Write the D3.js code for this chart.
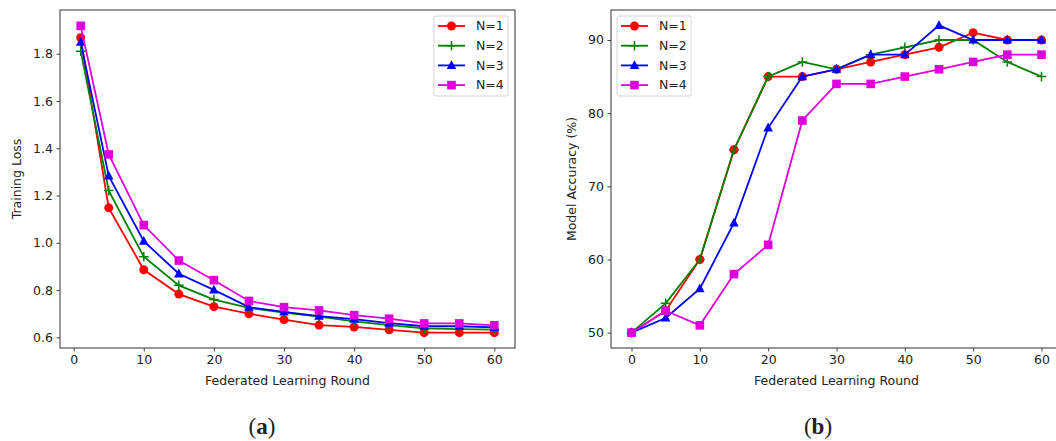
<!DOCTYPE html>
<html>
<head>
<meta charset="utf-8">
<script src="https://cdn.jsdelivr.net/npm/d3@7"></script>
<style>
  body { margin: 0; background: #fff; }
  text { font-family: "DejaVu Sans", sans-serif; fill: #222; }
</style>
</head>
<body>
<div id="chart"></div>
<script>
// data
let lossRounds = [1, 5, 10, 15, 20, 25, 30, 35, 40, 45, 50, 55, 60];
let accRounds = [0, 5, 10, 15, 20, 25, 30, 35, 40, 45, 50, 55, 60];
let seriesNames = ["N=1", "N=2", "N=3", "N=4"];

let lossN1 = [1.868, 1.148, 0.886, 0.783, 0.730, 0.700, 0.675, 0.652, 0.644, 0.632, 0.620, 0.620, 0.620];
let lossN2 = [1.811, 1.221, 0.941, 0.820, 0.760, 0.725, 0.705, 0.688, 0.668, 0.652, 0.638, 0.635, 0.633];
let lossN3 = [1.849, 1.283, 1.007, 0.869, 0.801, 0.728, 0.708, 0.690, 0.677, 0.660, 0.647, 0.647, 0.642];
let lossN4 = [1.918, 1.374, 1.075, 0.925, 0.842, 0.754, 0.728, 0.714, 0.694, 0.679, 0.659, 0.659, 0.651];

let accN1 = [50, 53, 60, 75, 85, 85, 86, 87, 88, 89, 91, 90, 90];
let accN2 = [50, 54, 60, 75, 85, 87, 86, 88, 89, 90, 90, 87, 85];
let accN3 = [50, 52, 56, 65, 78, 85, 86, 88, 88, 92, 90, 90, 90];
let accN4 = [50, 53, 51, 58, 62, 79, 84, 84, 85, 86, 87, 88, 88];

let lossTicksY = [0.6, 0.8, 1.0, 1.2, 1.4, 1.6, 1.8];
let accTicksY = [50, 60, 70, 80, 90];
let ticksX = [0, 10, 20, 30, 40, 50, 60];

let colors = ["#ff0000", "#008000", "#0000ff", "#dd00dd"];
let markers = ["circle", "plus", "triangle", "square"];

let svgWidth = 1056;
let svgHeight = 441;
let fontSize = "12.5px";

let svg = d3.select("#chart")
  .append("svg")
  .attr("width", svgWidth)
  .attr("height", svgHeight);

// draw one marker shape at 0,0
function drawMarker(g, type, color) {
  if (type === "circle") {
    g.append("circle").attr("r", 4.5).attr("fill", color);
  } else if (type === "square") {
    g.append("rect").attr("x", -4.3).attr("y", -4.3).attr("width", 8.6).attr("height", 8.6).attr("fill", color);
  } else if (type === "triangle") {
    g.append("path").attr("d", "M0,-5.2L4.8,3.6L-4.8,3.6Z").attr("fill", color);
  } else {
    g.append("path").attr("d", "M-4.8,0H4.8M0,-4.8V4.8").attr("stroke", color).attr("stroke-width", 1.5);
  }
}

function drawPanel(opts) {
  let g = svg.append("g");
  let x = d3.scaleLinear().domain(opts.xDomain).range([opts.left, opts.right]);
  let y = d3.scaleLinear().domain(opts.yDomain).range([opts.bottom, opts.top]);

  // axes
  let bottomAxis = d3.axisBottom(x).tickValues(ticksX).tickSize(3.5).tickPadding(3.5).tickFormat(d3.format("d"));
  let leftAxis = d3.axisLeft(y).tickValues(opts.yTicks).tickSize(3.5).tickPadding(3.5).tickFormat(opts.yFormat);

  let xAxis = g.append("g")
    .attr("transform", `translate(0,${opts.bottom})`)
    .call(bottomAxis);
  let yAxis = g.append("g")
    .attr("transform", `translate(${opts.left},0)`)
    .call(leftAxis);
  [xAxis, yAxis].forEach(a => {
    a.select(".domain").remove();
    a.selectAll("line").attr("stroke", "#333").attr("stroke-width", 0.9);
    a.selectAll("text").style("font-size", fontSize).attr("fill", "#222");
  });

  // frame
  g.append("rect")
    .attr("x", opts.left).attr("y", opts.top)
    .attr("width", opts.right - opts.left).attr("height", opts.bottom - opts.top)
    .attr("fill", "none").attr("stroke", "#333").attr("stroke-width", 1);

  // series
  let line = d3.line().x((d, i) => x(opts.xs[i])).y(d => y(d));
  opts.series.forEach((vals, s) => {
    g.append("path")
      .datum(vals)
      .attr("d", line)
      .attr("fill", "none")
      .attr("stroke", colors[s])
      .attr("stroke-width", 1.8);
    vals.forEach((v, i) => {
      let m = g.append("g").attr("transform", `translate(${x(opts.xs[i])},${y(v)})`);
      drawMarker(m, markers[s], colors[s]);
    });
  });

  // axis labels
  g.append("text")
    .attr("x", (opts.left + opts.right) / 2)
    .attr("y", opts.bottom + 37)
    .attr("text-anchor", "middle")
    .style("font-size", fontSize)
    .text("Federated Learning Round");
  g.append("text")
    .attr("transform", `translate(${opts.yLabelX},${(opts.top + opts.bottom) / 2}) rotate(-90)`)
    .attr("text-anchor", "middle")
    .style("font-size", fontSize)
    .text(opts.yLabel);

  // legend
  let lg = g.append("g").attr("transform", `translate(${opts.legendX},16)`);
  lg.append("rect")
    .attr("width", 74).attr("height", 80).attr("rx", 2)
    .attr("fill", "#fff").attr("stroke", "#d6d6d6").attr("stroke-width", 1);
  seriesNames.forEach((name, s) => {
    let row = lg.append("g").attr("transform", `translate(0,${10 + s * 19.7})`);
    row.append("line").attr("x1", 4).attr("x2", 31).attr("stroke", colors[s]).attr("stroke-width", 1.8);
    let m = row.append("g").attr("transform", "translate(17.5,0)");
    drawMarker(m, markers[s], colors[s]);
    row.append("text").attr("x", 42).attr("dy", "0.35em").style("font-size", fontSize).text(name);
  });

  // sub caption
  let cap = svg.append("text")
    .attr("x", opts.captionX)
    .attr("y", 434)
    .attr("text-anchor", "middle")
    .style("font-family", "'Liberation Serif', 'DejaVu Serif', serif")
    .style("font-size", "23px")
    .attr("fill", "#000");
  cap.append("tspan").text("(");
  cap.append("tspan").style("font-weight", "bold").text(opts.caption);
  cap.append("tspan").text(")");
}

drawPanel({
  left: 60, right: 515, top: 10, bottom: 348,
  xDomain: [-1.95, 62.95], yDomain: [0.555, 1.985],
  xs: lossRounds,
  series: [lossN1, lossN2, lossN3, lossN4],
  yTicks: lossTicksY, yFormat: d3.format(".1f"),
  yLabel: "Training Loss", yLabelX: 21,
  legendX: 434, caption: "a", captionX: 262
});

drawPanel({
  left: 611, right: 1062, top: 10, bottom: 348,
  xDomain: [-3, 63], yDomain: [47.9, 94.1],
  xs: accRounds,
  series: [accN1, accN2, accN3, accN4],
  yTicks: accTicksY, yFormat: d3.format("d"),
  yLabel: "Model Accuracy (%)", yLabelX: 576,
  legendX: 617, caption: "b", captionX: 818
});
</script>
</body>
</html>
